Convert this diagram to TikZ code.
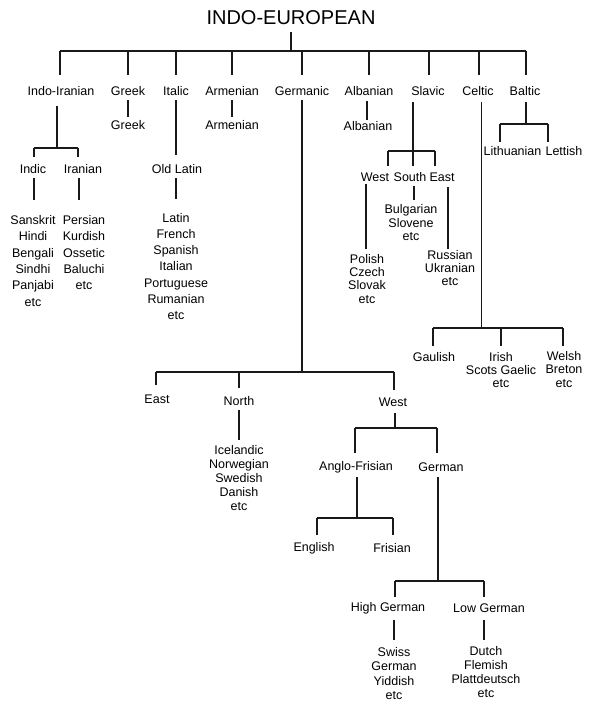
\documentclass[tikz,border=0pt]{standalone}
\usepackage{fontspec}
\setmainfont{Liberation Sans}
\begin{document}
\begin{tikzpicture}[x=1pt,y=-1pt,
  lab/.style={inner sep=0pt, anchor=north, text height=9pt, text depth=2.5pt, font=\fontsize{12.5}{15}\selectfont},
  lst/.style={inner sep=0pt, anchor=north, align=center, font=\fontsize{12.5}{#1}\selectfont},
  lst/.default=14,
  br/.style={line width=1.3pt, draw=black!90}]
\useasboundingbox (0,0) rectangle (597,703);
% ---------- nodes ----------
\node[font=\fontsize{20}{24}\selectfont, inner sep=0pt, anchor=base] (ie) at (291,25) {INDO-EUROPEAN};
\node[lab] (ii) at (61,86) {Indo-Iranian};
\node[lab] (gr) at (128,86) {Greek};
\node[lab] (it) at (176,86) {Italic};
\node[lab] (ar) at (232,86) {Armenian};
\node[lab] (ge) at (302,86) {Germanic};
\node[lab] (al) at (369,86) {Albanian};
\node[lab] (sl) at (428,86) {Slavic};
\node[lab] (ce) at (478,86) {Celtic};
\node[lab] (ba) at (525,86) {Baltic};
\node[lab] (gr2) at (128,120) {Greek};
\node[lab] (ar2) at (232,120) {Armenian};
\node[lab] (al2) at (368,121) {Albanian};
\node[lab] (indic) at (33,164) {Indic};
\node[lab] (iran) at (83,164) {Iranian};
\node[lab] (oldlat) at (177,164) {Old Latin};
\node[lst=16.4] (indl) at (33,215) {Sanskrit\\Hindi\\Bengali\\Sindhi\\Panjabi\\etc};
\node[lst=16.4] (iranl) at (84,215) {Persian\\Kurdish\\Ossetic\\Baluchi\\etc};
\node[lst=16.2] (latl) at (176,213) {Latin\\French\\Spanish\\Italian\\Portuguese\\Rumanian\\etc};
\node[lab] (slw) at (375,172) {West};
\node[lab] (sls) at (410,172) {South};
\node[lab] (sle) at (442,172) {East};
\node[lst=13.3] (polish) at (367,254) {Polish\\Czech\\Slovak\\etc};
\node[lst=13.5] (bulg) at (411,204.5) {Bulgarian\\Slovene\\etc};
\node[lst=13] (russ) at (450,250.5) {Russian\\Ukranian\\etc};
\node[lab] (lith) at (512.5,146) {Lithuanian};
\node[lab] (lett) at (564,146) {Lettish};
\node[lab] (gaul) at (434,352) {Gaulish};
\node[lst=13] (irish) at (501,352) {Irish\\Scots Gaelic\\etc};
\node[lst=13.5] (welsh) at (564,351) {Welsh\\Breton\\etc};
\node[lab] (east) at (157,394) {East};
\node[lab] (north) at (239,396) {North};
\node[lab] (west) at (393,397) {West};
\node[lst=14] (icel) at (239,445) {Icelandic\\Norwegian\\Swedish\\Danish\\etc};
\node[lab] (anglo) at (356,461) {Anglo-Frisian};
\node[lab] (german) at (441,462) {German};
\node[lab] (english) at (314,542) {English};
\node[lab] (frisian) at (392,543) {Frisian};
\node[lab] (high) at (388,602) {High German};
\node[lab] (low) at (489,603.5) {Low German};
\node[lst=14.4] (swiss) at (394,647) {Swiss\\German\\Yiddish\\etc};
\node[lst=14] (dutch) at (486,646) {Dutch\\Flemish\\Plattdeutsch\\etc};
% ---------- junction coordinates ----------
\coordinate (iej) at (291,51);
\coordinate (t1) at (60,51);  \coordinate (t2) at (128,51); \coordinate (t3) at (176,51);
\coordinate (t4) at (232,51); \coordinate (t5) at (302,51); \coordinate (t6) at (369,51);
\coordinate (t7) at (429,51); \coordinate (t8) at (479,51); \coordinate (t9) at (526,51);
\coordinate (alx) at (367,0);
\coordinate (iij) at (57,148); \coordinate (iia) at (34,148); \coordinate (iib) at (78,148);
\coordinate (indx) at (34,0); \coordinate (iranx) at (79,0);
\coordinate (gej) at (302,372); \coordinate (gea) at (156,372); \coordinate (geb) at (394,372);
\coordinate (wj) at (395,428); \coordinate (wa) at (355,428); \coordinate (wb) at (437,428);
\coordinate (aj) at (357,518); \coordinate (aa) at (317,518); \coordinate (ab) at (393,518);
\coordinate (gj) at (438,581); \coordinate (ga) at (395,581); \coordinate (gb) at (484,581);
\coordinate (lowx) at (484,0);
\coordinate (sj) at (413,151); \coordinate (sa) at (388,151); \coordinate (sb) at (435,151);
\coordinate (swx) at (366,0); \coordinate (ssx) at (414,0); \coordinate (sex) at (448,0);
\coordinate (cj) at (481.5,328); \coordinate (ca) at (433,328); \coordinate (cm) at (501,328); \coordinate (cb) at (563,328);
\coordinate (bj) at (526,124); \coordinate (b1) at (500,124); \coordinate (b2) at (548,124);
% ---------- connectors ----------
\begin{scope}[br]
\draw ([yshift=-7pt]ie.base) -- (iej);
\draw (t1) -- (t9);
\draw[shorten >=11pt] (t1) -- (t1 |- ii.north);
\draw[shorten >=11pt] (t2) -- (t2 |- gr.north);
\draw[shorten >=11pt] (t3) -- (t3 |- it.north);
\draw[shorten >=11pt] (t4) -- (t4 |- ar.north);
\draw[shorten >=11pt] (t5) -- (t5 |- ge.north);
\draw[shorten >=11pt] (t6) -- (t6 |- al.north);
\draw[shorten >=11pt] (t7) -- (t7 |- sl.north);
\draw[shorten >=11pt] (t8) -- (t8 |- ce.north);
\draw[shorten >=11pt] (t9) -- (t9 |- ba.north);
% Greek, Armenian, Albanian
\draw[shorten <=2.5pt, shorten >=3pt] (gr.south) -- (gr2.north);
\draw[shorten <=2.5pt, shorten >=3pt] (ar.south) -- (ar2.north);
\draw[shorten <=3.5pt, shorten >=1pt] (alx |- al.south) -- (alx |- al2.north);
% Indo-Iranian
\draw[shorten <=8.5pt] (iij |- ii.south) -- (iij);
\draw (iia) -- (iib);
\draw[shorten >=7pt] (iia) -- (iia |- indic.north);
\draw[shorten >=7pt] (iib) -- (iib |- iran.north);
\draw[shorten <=2.5pt, shorten >=15pt] (indx |- indic.south) -- (indx |- indl.north);
\draw[shorten <=2.5pt, shorten >=15pt] (iranx |- iran.south) -- (iranx |- iranl.north);
% Italic
\draw[shorten <=2.5pt, shorten >=9pt] (it.south) -- (it.south |- oldlat.north);
\draw[shorten <=2.5pt, shorten >=14pt] (latl.north |- oldlat.south) -- (latl.north);
% Germanic
\draw[shorten <=2.5pt] (ge.south) -- (gej);
\draw (gea) -- (geb);
\draw[shorten >=9pt] (gea) -- (gea |- east.north);
\draw[shorten >=8pt] (north.north |- gej) -- (north.north);
\draw[shorten >=7pt] (geb) -- (geb |- west.north);
\draw[shorten <=2.5pt, shorten >=5pt] (north.south) -- (north.south |- icel.north);
\draw[shorten <=4.5pt] (wj |- west.south) -- (wj);
\draw (wa) -- (wb);
\draw[shorten >=8pt] (wa) -- (wa |- anglo.north);
\draw[shorten >=9pt] (wb) -- (wb |- german.north);
\draw[shorten <=4.5pt] (aj |- anglo.south) -- (aj);
\draw (aa) -- (ab);
\draw[shorten >=7pt] (aa) -- (aa |- english.north);
\draw[shorten >=8pt] (ab) -- (ab |- frisian.north);
\draw[shorten <=3.5pt] (gj |- german.south) -- (gj);
\draw (ga) -- (gb);
\draw[shorten >=5pt] (ga) -- (ga |- high.north);
\draw[shorten >=6.5pt] (gb) -- (gb |- low.north);
\draw[shorten <=6.5pt, shorten >=7pt] (swiss.north |- high.south) -- (swiss.north);
\draw[shorten <=5pt, shorten >=6pt] (lowx |- low.south) -- (lowx |- dutch.north);
% Slavic
\draw[shorten <=4.5pt] (sj |- sl.south) -- (sj);
\draw (sa) -- (sb);
\draw[shorten >=6pt] (sa) -- (sa |- slw.north);
\draw[shorten >=6pt] (sj) -- (sj |- sls.north);
\draw[shorten >=6pt] (sb) -- (sb |- sle.north);
\draw[shorten <=0.5pt, shorten >=5pt] (swx |- slw.south) -- (swx |- polish.north);
\draw[shorten <=2.5pt, shorten >=4.5pt] (ssx |- sls.south) -- (ssx |- bulg.north);
\draw[shorten <=3.5pt, shorten >=1.5pt] (sex |- sle.south) -- (sex |- russ.north);
% Celtic
\draw[shorten <=4.5pt] (cj |- ce.south) -- (cj);
\draw (ca) -- (cb);
\draw[shorten >=6pt] (ca) -- (ca |- gaul.north);
\draw[shorten >=6pt] (cm) -- (cm |- irish.north);
\draw[shorten >=5pt] (cb) -- (cb |- welsh.north);
% Baltic
\draw[shorten <=4.5pt] (bj |- ba.south) -- (bj);
\draw (b1) -- (b2);
\draw[shorten >=4pt] (b1) -- (b1 |- lith.north);
\draw[shorten >=4pt] (b2) -- (b2 |- lett.north);
\end{scope}
\end{tikzpicture}
\end{document}
